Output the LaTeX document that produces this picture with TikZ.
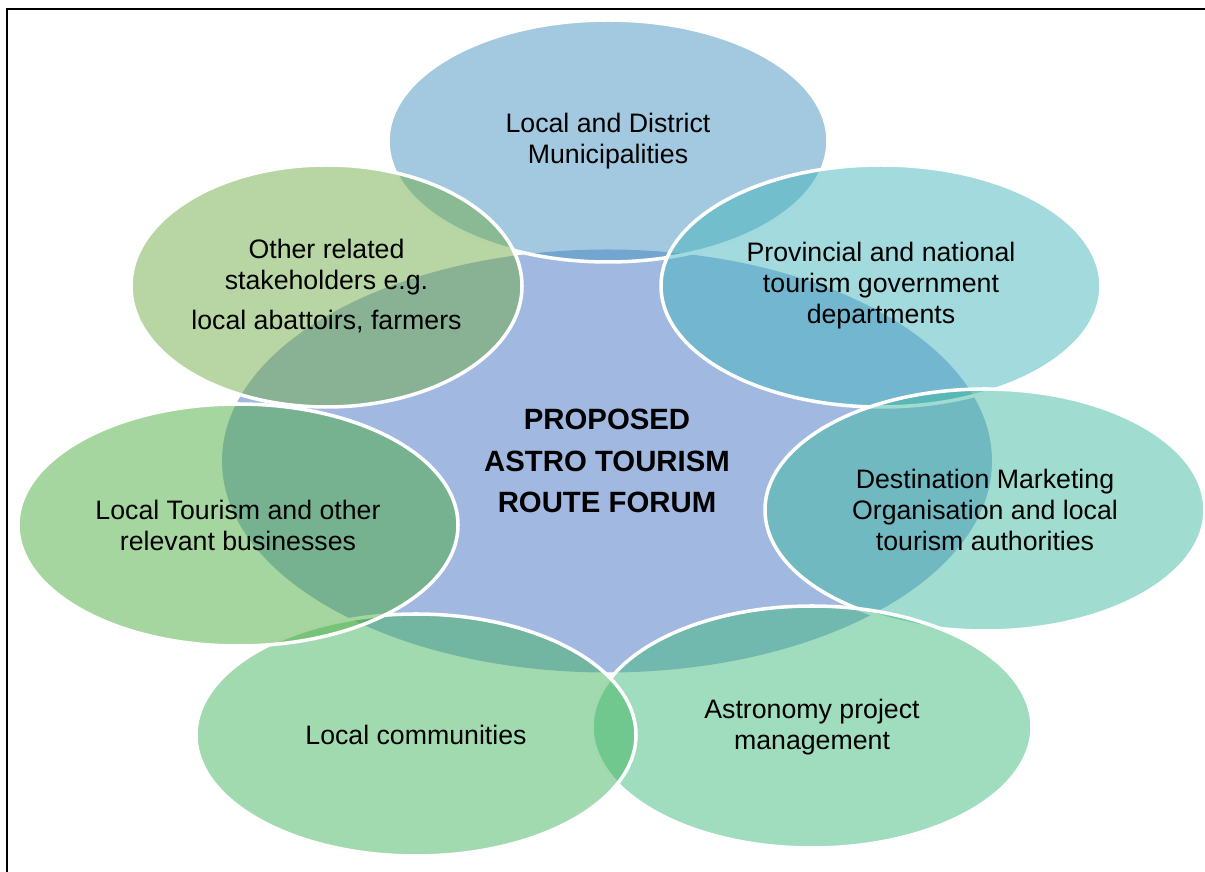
\documentclass[tikz,border=0pt]{standalone}
\usepackage{fontspec}
\setmainfont{Liberation Sans}
\usetikzlibrary{shapes.geometric}

% Colours of the forum and its stakeholders
\definecolor{forumblue}{RGB}{68,114,196}
\definecolor{munblue}{RGB}{69,147,191}
\definecolor{provteal}{RGB}{69,181,189}
\definecolor{dmoteal}{RGB}{65,187,161}
\definecolor{astrogreen}{RGB}{65,185,125}
\definecolor{commgreen}{RGB}{69,181,97}
\definecolor{busgreen}{RGB}{77,173,65}
\definecolor{othergreen}{RGB}{113,173,73}

\tikzset{
    bubble/.style={ellipse, draw=white, line width=2pt, fill opacity=0.5, text opacity=1,
        align=center, inner sep=0pt, minimum width=8.8cm, minimum height=4.84cm,
        font=\fontsize{15.2}{17.6}\selectfont},
    forumbubble/.style={ellipse, fill=forumblue, fill opacity=0.5, text opacity=1,
        align=center, inner sep=0pt, minimum width=15.4cm, minimum height=8.46cm,
        font=\bfseries\fontsize{16.7}{23.8}\selectfont}
}

\begin{document}
\begin{tikzpicture}
    \useasboundingbox (0,0) rectangle (24.1,17.44);

    % Frame
    \draw[line width=1.2pt] (0.14,0) -- (0.14,17.26) -- (24.1,17.26);

    % Forum in the middle
    \node[forumbubble] (forum) at (12.14,8.22) {PROPOSED\\ASTRO TOURISM\\ROUTE FORUM};

    % Stakeholders, clockwise from the top
    \node[bubble, fill=munblue] (municipal) at (12.16,14.62) {Local and District\\Municipalities};
    \node[bubble, fill=provteal] (provincial) at (17.62,11.72) {Provincial and national\\tourism government\\departments};
    \node[bubble, fill=dmoteal] (dmo) at (19.70,7.24) {Destination Marketing\\Organisation and local\\tourism authorities};
    \node[bubble, fill=astrogreen] (astronomy) at (16.24,2.90) {Astronomy project\\management};
    \node[bubble, fill=commgreen] (community) at (8.32,2.74) {Local communities};
    \node[bubble, fill=busgreen] (business) at (4.76,6.94) {Local Tourism and other\\relevant businesses};
    \node[bubble, fill=othergreen, minimum width=7.82cm] (others) at (6.53,11.72) {Other related\\stakeholders e.g.\\[5pt]local abattoirs, farmers};
\end{tikzpicture}
\end{document}
